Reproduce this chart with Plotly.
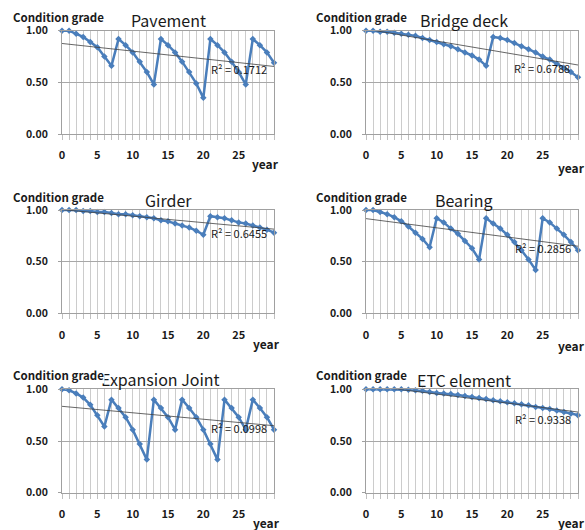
import numpy as np
import plotly.graph_objects as go

W, H = 585, 530

years = list(range(31))

titles = ["Pavement", "Bridge deck", "Girder", "Bearing", "Expansion Joint", "ETC element"]
r2_labels = ["R² = 0.1712", "R² = 0.6788", "R² = 0.6455", "R² = 0.2856", "R² = 0.0998", "R² = 0.9338"]

pavement = [1.00, 1.00, 0.97, 0.94, 0.89, 0.84, 0.75, 0.66,
            0.92, 0.86, 0.79, 0.70, 0.60, 0.48,
            0.92, 0.86, 0.79, 0.70, 0.60, 0.49, 0.35,
            0.92, 0.86, 0.79, 0.70, 0.60, 0.48,
            0.92, 0.86, 0.79, 0.69]
bridge_deck = [1.00, 1.00, 0.99, 0.99, 0.98, 0.97, 0.96, 0.95, 0.93, 0.91,
               0.89, 0.87, 0.85, 0.82, 0.79, 0.76, 0.72, 0.66,
               0.94, 0.93, 0.91, 0.88, 0.85, 0.82, 0.79, 0.75, 0.72, 0.68, 0.64, 0.60, 0.55]
girder = [1.00, 1.00, 1.00, 0.99, 0.99, 0.98, 0.98, 0.97, 0.96, 0.96,
          0.95, 0.94, 0.93, 0.92, 0.90, 0.89, 0.87, 0.85, 0.83, 0.80, 0.76,
          0.94, 0.93, 0.92, 0.90, 0.88, 0.87, 0.85, 0.83, 0.81, 0.78]
bearing = [1.00, 1.00, 0.98, 0.96, 0.93, 0.89, 0.84, 0.78, 0.72, 0.64,
           0.92, 0.88, 0.82, 0.77, 0.70, 0.63, 0.52,
           0.92, 0.87, 0.82, 0.76, 0.69, 0.61, 0.52, 0.42,
           0.92, 0.88, 0.82, 0.76, 0.69, 0.61]
expansion_joint = [1.00, 0.99, 0.96, 0.92, 0.85, 0.75, 0.64,
                   0.90, 0.82, 0.73, 0.61, 0.47, 0.32,
                   0.90, 0.82, 0.73, 0.61,
                   0.90, 0.82, 0.73, 0.61, 0.47, 0.32,
                   0.90, 0.82, 0.73, 0.61,
                   0.90, 0.82, 0.73, 0.61]
etc_element = [1.00, 1.00, 1.00, 1.00, 1.00, 1.00, 0.995, 0.99, 0.985, 0.975,
               0.965, 0.96, 0.955, 0.945, 0.935, 0.925, 0.915, 0.905, 0.895, 0.885,
               0.875, 0.865, 0.855, 0.845, 0.83, 0.82, 0.81, 0.795, 0.78, 0.765, 0.75]

series = [pavement, bridge_deck, girder, bearing, expansion_joint, etc_element]

x_tickvals = [0, 5, 10, 15, 20, 25]
y_tickvals = [0.0, 0.5, 1.0]
y_ticktext = ["0.00", "0.50", "1.00"]

# panel plot-area geometry in pixels: (left, right, top, bottom)
panels_px = [
    (62, 274, 30.7, 134.0), (366, 578, 30.7, 134.0),
    (62, 274, 210.0, 313.3), (366, 578, 210.0, 313.3),
    (62, 274, 389.3, 492.7), (366, 578, 389.3, 492.7),
]

BLUE = "#4a7ebb"
FONT = "Noto Sans CJK KR"

def px2paper(x, y):
    return x / W, 1 - y / H

fig = go.Figure()
annotations = []

for i, (vals, (l, r, t, b)) in enumerate(zip(series, panels_px)):
    n = i + 1
    xa = "x" if n == 1 else f"x{n}"
    ya = "y" if n == 1 else f"y{n}"
    xkey = "xaxis" if n == 1 else f"xaxis{n}"
    ykey = "yaxis" if n == 1 else f"yaxis{n}"

    # linear trendline fitted from the data
    slope, intercept = np.polyfit(years, vals, 1)
    tx = [years[0], years[-1]]
    ty = [intercept + slope * v for v in tx]
    fig.add_trace(go.Scatter(
        x=years, y=vals, mode="lines+markers", xaxis=xa, yaxis=ya,
        line=dict(color=BLUE, width=2.5),
        marker=dict(symbol="diamond", size=5, color=BLUE),
        cliponaxis=False, showlegend=False, hoverinfo="skip"))
    fig.add_trace(go.Scatter(
        x=tx, y=ty, mode="lines",
        xaxis=xa, yaxis=ya, line=dict(color="#404040", width=0.8),
        showlegend=False, hoverinfo="skip"))

    fig.update_layout(**{
        xkey: dict(domain=[l / W, r / W], range=[0, 30], anchor=ya, automargin=False,
                   tickvals=x_tickvals, ticks="outside", ticklen=5, tickcolor="#c0c0c0",
                   showgrid=True, gridcolor="#cccccc", gridwidth=1,
                   minor=dict(dtick=1, tick0=0, showgrid=True, gridcolor="#cccccc",
                              ticks="outside", ticklen=5, tickcolor="#c0c0c0"),
                   showline=True, linecolor="#a0a0a0", mirror=True, zeroline=False,
                   tickfont=dict(family=FONT, size=11, color="#1a1a1a", weight="bold"),
                   ticklabelstandoff=6, fixedrange=True),
        ykey: dict(domain=[1 - b / H, 1 - t / H], range=[0, 1], anchor=xa, automargin=False,
                   tickvals=y_tickvals, ticktext=y_ticktext, ticks="outside", ticklen=3,
                   tickcolor="#a0a0a0", showgrid=True, gridcolor="#a8a8a8", gridwidth=1,
                   showline=True, linecolor="#a0a0a0", mirror=True, zeroline=False,
                   tickfont=dict(family=FONT, size=10.5, color="#1a1a1a", weight="bold"),
                   ticklabelstandoff=8, fixedrange=True),
    })

# R² positions (data coords)
r2_pos = [(25, 0.63), (24.9, 0.64), (25, 0.78), (25, 0.63), (25, 0.63), (25, 0.71)]
for i, (txt, (xx, yy)) in enumerate(zip(r2_labels, r2_pos)):
    n = i + 1
    xa = "x" if n == 1 else f"x{n}"
    ya = "y" if n == 1 else f"y{n}"
    annotations.append(dict(text=txt, x=xx, y=yy, xref=xa, yref=ya, showarrow=False,
                            font=dict(family=FONT, size=11, color="#1a1a1a")))

title_px = [(168, 20), (464, 20), (168, 200), (464, 200), (160, 379), (464, 380)]
for txt, (xx, yy) in zip(titles, title_px):
    px, py = px2paper(xx, yy)
    annotations.append(dict(text=txt, x=px, y=py, xref="paper", yref="paper", showarrow=False,
                            xanchor="center", yanchor="middle",
                            font=dict(family=FONT, size=16, color="#1a1a1a")))

cg_px = [(12, 17), (315, 17), (12, 197), (315, 197), (12, 375), (315, 375)]
for k, (xx, yy) in enumerate(cg_px):
    px, py = px2paper(xx, yy)
    annotations.append(dict(text="Condition grade", x=px, y=py, xref="paper", yref="paper",
                            showarrow=False, xanchor="left", yanchor="middle",
                            bgcolor="white" if k == 4 else "rgba(0,0,0,0)", borderpad=0,
                            font=dict(family=FONT, size=11.5, color="#1a1a1a", weight="bold")))

year_px = [(265, 164), (571, 167), (266, 343), (571, 345), (266, 522), (571, 522)]
for (xx, yy) in year_px:
    px, py = px2paper(xx, yy)
    annotations.append(dict(text="year", x=px, y=py, xref="paper", yref="paper",
                            showarrow=False, xanchor="center", yanchor="middle",
                            font=dict(family=FONT, size=12, color="#1a1a1a", weight="bold")))

fig.update_layout(width=W, height=H, margin=dict(l=0, r=0, t=0, b=0, autoexpand=False),
                  paper_bgcolor="white", plot_bgcolor="white",
                  annotations=annotations, showlegend=False)

fig.write_html("out.html", config={"displayModeBar": False, "staticPlot": True},
               post_script="document.body.style.margin='0';document.body.style.padding='0';"
                           "document.documentElement.style.overflow='hidden';")
